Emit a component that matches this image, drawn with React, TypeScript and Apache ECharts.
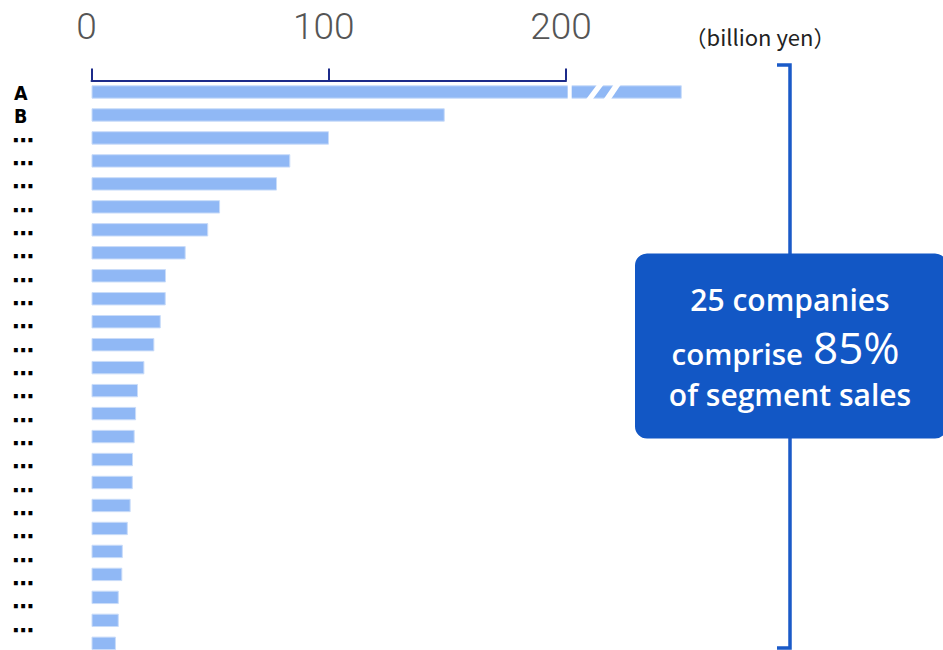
import React, { useEffect, useRef } from "react";
import * as echarts from "echarts";

// ---- data ----
const categories = [
  "A", "B", "⋯", "⋯", "⋯", "⋯", "⋯", "⋯", "⋯", "⋯", "⋯", "⋯", "⋯",
  "⋯", "⋯", "⋯", "⋯", "⋯", "⋯", "⋯", "⋯", "⋯", "⋯", "⋯", "⋯",
];
// billion yen (first bar is drawn with an axis break)
const values = [
  248.8, 148.9, 100.1, 83.8, 78.2, 54.2, 49.2, 39.7, 31.4, 31.3, 29.2, 26.5,
  22.3, 19.6, 18.8, 18.2, 17.5, 17.4, 16.5, 15.3, 13.2, 13.0, 11.5, 11.5, 10.3,
];
// axis break marks on bar "A": [categoryIndex, bottomStart, bottomEnd, topStart, topEnd]
const breakGaps = [
  [0, 200.7, 202.4, 200.7, 202.4],
  [0, 208.3, 211.1, 213.2, 216.0],
  [0, 215.7, 218.8, 220.2, 223.2],
];
const axisMin = 0;
const axisMax = 200;
const axisInterval = 100;
const unitLabel = "（billion yen）";
const calloutLine1 = "25 companies";
const calloutLine2a = "comprise";
const calloutLine2b = "85%";
const calloutLine3 = "of segment sales";
const visibleLabelCount = 24; // the 25th row's label falls below the picture

const BAR_W = 13.4;

export default function App() {
  const ref = useRef<HTMLDivElement>(null);
  useEffect(() => {
    if (!ref.current) return;
    const chart = echarts.init(ref.current, null, { renderer: "svg" });
    const navy = "#1c2b8a";
    const option: any = {
      animation: false,
      backgroundColor: "#ffffff",
      grid: [
        { left: 91.5, top: 80.5, width: 474.5, height: 574.3, outerBoundsMode: "none", containLabel: false },
        { left: 12, top: 82, width: 10, height: 583, outerBoundsMode: "none", containLabel: false },
      ],
      xAxis: [
        {
          type: "value",
          gridIndex: 0,
          position: "top",
          min: axisMin,
          max: axisMax,
          interval: axisInterval,
          axisLine: { show: true, lineStyle: { color: navy, width: 2 } },
          axisTick: { show: true, length: 12, lineStyle: { color: navy, width: 2 } },
          splitLine: { show: false },
          axisLabel: {
            fontSize: 37,
            fontFamily: "Roboto",
            fontWeight: 300,
            color: "#555555",
            margin: 36,
            padding: [0, 10, 0, 0],
          },
        },
        { type: "value", gridIndex: 1, show: false },
      ],
      yAxis: [
        {
          type: "category",
          gridIndex: 0,
          data: categories,
          inverse: true,
          show: false,
        },
        {
          type: "category",
          gridIndex: 1,
          data: categories,
          inverse: true,
          axisLine: { show: false },
          axisTick: { show: false },
          splitLine: { show: false },
          axisLabel: {
            inside: true,
            margin: 0,
            interval: 0,
            formatter: (v: string, i: number) =>
              i >= visibleLabelCount ? "" : v === "⋯" ? `{d|${v}}` : `{l|${v}}`,
            rich: {
              l: {
                fontSize: 19.5,
                lineHeight: 20,
                fontWeight: "bold",
                fontFamily: "'Liberation Sans Narrow', 'DejaVu Sans Condensed', sans-serif",
                color: "#000",
                padding: [0, 0, 0, 2],
              },
              d: {
                fontSize: 22,
                lineHeight: 20,
                fontWeight: "bold",
                fontFamily: "'DejaVu Sans'",
                color: "#000",
              },
            },
          },
        },
      ],
      series: [
        {
          type: "bar",
          xAxisIndex: 0,
          yAxisIndex: 0,
          data: values,
          barWidth: BAR_W,
          clip: false,
          itemStyle: { color: "#90b8f5", borderColor: "#c9dcf9", borderWidth: 1 },
        },
        {
          type: "custom",
          xAxisIndex: 0,
          yAxisIndex: 0,
          data: breakGaps,
          encode: { x: [1, 2, 3, 4], y: 0 },
          renderItem: (params: any, api: any) => {
            const cat = api.value(0);
            const yc = api.coord([0, cat])[1];
            const h = BAR_W + 2;
            const px = (v: number) => api.coord([v, cat])[0];
            return {
              type: "polygon",
              shape: {
                points: [
                  [px(api.value(1)), yc + h / 2],
                  [px(api.value(2)), yc + h / 2],
                  [px(api.value(4)), yc - h / 2],
                  [px(api.value(3)), yc - h / 2],
                ],
              },
              style: { fill: "#ffffff" },
            };
          },
          z: 3,
        },
      ],
      graphic: [
        {
          type: "polyline",
          shape: { points: [[777, 65], [790, 65], [790, 648], [777, 648]] },
          style: { stroke: "#1a5ac8", lineWidth: 3.5, fill: null },
          z: 10,
        },
        {
          type: "rect",
          shape: { x: 635, y: 253.5, width: 312, height: 185, r: 12 },
          style: { fill: "#1257c5" },
          z: 11,
        },
        {
          type: "text",
          x: 790, y: 299,
          style: {
            text: calloutLine1, fill: "#fff", fontSize: 30, fontWeight: 600,
            fontFamily: "'Open Sans'", align: "center", verticalAlign: "middle",
          },
          z: 12,
        },
        {
          type: "text",
          x: 803, y: 353,
          style: {
            text: calloutLine2a, fill: "#fff", fontSize: 29.5, fontWeight: 600,
            fontFamily: "'Open Sans'", align: "right", verticalAlign: "middle",
          },
          z: 12,
        },
        {
          type: "text",
          x: 813, y: 347,
          style: {
            text: calloutLine2b, fill: "#fff", fontSize: 44, fontWeight: 500,
            fontFamily: "'Open Sans'", align: "left", verticalAlign: "middle",
          },
          z: 12,
        },
        {
          type: "text",
          x: 790, y: 394,
          style: {
            text: calloutLine3, fill: "#fff", fontSize: 30, fontWeight: 600,
            fontFamily: "'Open Sans'", align: "center", verticalAlign: "middle",
          },
          z: 12,
        },
        {
          type: "text",
          x: 760, y: 36,
          style: {
            text: unitLabel, fill: "#222", fontSize: 22,
            fontFamily: "'Noto Sans CJK JP'", align: "center", verticalAlign: "middle",
          },
          z: 12,
        },
      ],
    };
    chart.setOption(option);
    return () => chart.dispose();
  }, []);
  return (
    <div
      ref={ref}
      style={{ position: "absolute", left: 0, top: 0, width: 943, height: 650 }}
    />
  );
}
